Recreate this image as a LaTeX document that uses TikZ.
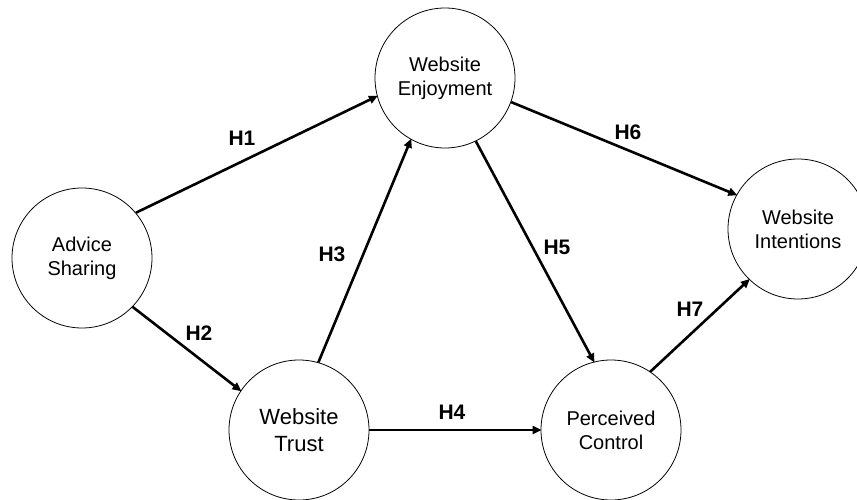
\documentclass[tikz,border=0pt]{standalone}
\usepackage{fontspec}
\setmainfont{Liberation Sans}
\usetikzlibrary{arrows.meta}
\begin{document}
\begin{tikzpicture}[x=1pt,y=-1pt,
  construct/.style={draw, circle, minimum size=140pt, inner sep=0pt, line width=0.8pt, align=center, font=\fontsize{20}{24}\selectfont},
  path/.style={line width=2.6pt, -{Triangle[length=9pt,width=8pt]}, shorten >=-1pt},
  hlabel/.style={font=\fontsize{21}{24}\selectfont\bfseries}]
\useasboundingbox (0,0) rectangle (857,500);
\fill[white] (0,0) rectangle (857,500);
\node[construct] (as) at (82,258) {Advice\\Sharing};
\node[construct] (we) at (445,78) {Website\\Enjoyment};
\node[construct] (wi) at (798,229) {Website\\Intentions};
\node[construct, font=\fontsize{22}{27}\selectfont] (wt) at (299,430) {Website\\Trust};
\node[construct] (pc) at (611,430) {Perceived\\Control};
\draw[path] (as.40.5) -- (we.195.2);
\draw[path] (as.-44.4) -- (wt.146.3);
\draw[path] (wt.74.4) -- (we.241);
\draw[path] (wt.0) -- (pc.180);
\draw[path] (we.-64.5) -- (pc.104.8);
\draw[path] (we.-20.5) -- (wi.151.6);
\draw[path] (pc.56.1) -- (wi.226.1);
\node[hlabel] (h1) at (242,138) {H1};
\node[hlabel] (h2) at (199,333) {H2};
\node[hlabel] (h3) at (332,254) {H3};
\node[hlabel] (h4) at (452,412) {H4};
\node[hlabel] (h5) at (557,247) {H5};
\node[hlabel] (h6) at (628,132) {H6};
\node[hlabel] (h7) at (690,309) {H7};
\end{tikzpicture}
\end{document}
